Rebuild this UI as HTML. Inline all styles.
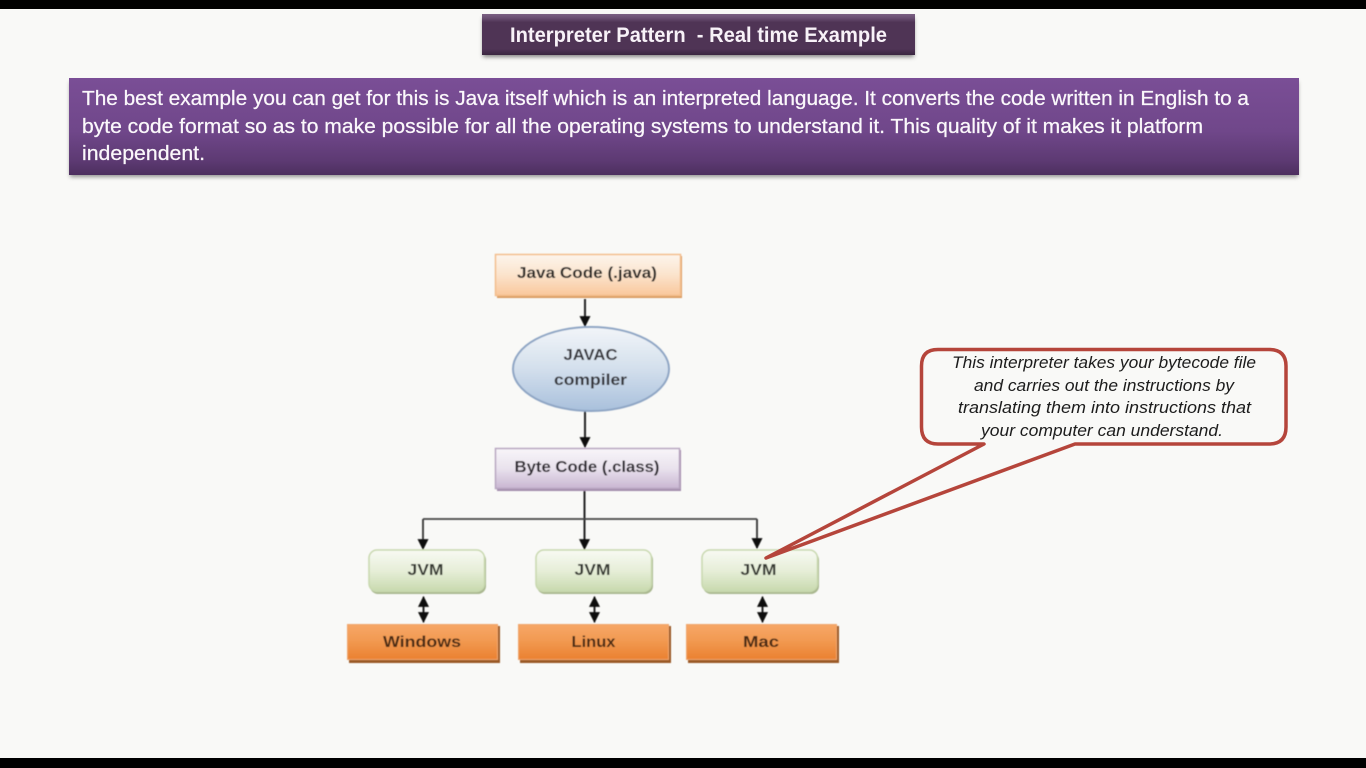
<!DOCTYPE html>
<html><head><meta charset="utf-8"><title>Interpreter Pattern</title>
<style>html,body{margin:0;padding:0;background:#000}svg{display:block}text{font-family:"Liberation Sans",sans-serif}</style></head>
<body>
<svg xmlns="http://www.w3.org/2000/svg" width="1366" height="768" viewBox="0 0 1366 768">
<defs>
<linearGradient id="title" x1="0" y1="0" x2="0" y2="1"><stop offset="0" stop-color="#7b6183"/><stop offset=".1" stop-color="#6a4f72"/><stop offset=".2" stop-color="#4f3455"/><stop offset=".85" stop-color="#4f3455"/><stop offset="1" stop-color="#3a2640"/></linearGradient>
<linearGradient id="band" x1="0" y1="0" x2="0" y2="1"><stop offset="0" stop-color="#7a4e96"/><stop offset=".55" stop-color="#70478a"/><stop offset=".85" stop-color="#5d3a73"/><stop offset="1" stop-color="#4d2f5f"/></linearGradient>
<linearGradient id="or" x1="0" y1="0" x2="0" y2="1"><stop offset="0" stop-color="#fdf5ec"/><stop offset=".5" stop-color="#fbe3cc"/><stop offset="1" stop-color="#f9c79b"/></linearGradient>
<linearGradient id="pu" x1="0" y1="0" x2="0" y2="1"><stop offset="0" stop-color="#f8f5f9"/><stop offset=".5" stop-color="#e9e2ed"/><stop offset="1" stop-color="#c9b6d2"/></linearGradient>
<linearGradient id="bl" x1="0" y1="0" x2="0" y2="1"><stop offset="0" stop-color="#f2f5f9"/><stop offset=".5" stop-color="#d3dfec"/><stop offset="1" stop-color="#a9c0dc"/></linearGradient>
<linearGradient id="gr" x1="0" y1="0" x2="0" y2="1"><stop offset="0" stop-color="#f8faf3"/><stop offset=".5" stop-color="#e6eed8"/><stop offset="1" stop-color="#c8d9ad"/></linearGradient>
<linearGradient id="dk" x1="0" y1="0" x2="0" y2="1"><stop offset="0" stop-color="#f6a767"/><stop offset=".45" stop-color="#f29a52"/><stop offset="1" stop-color="#ea8130"/></linearGradient>
<marker id="a" viewBox="0 0 10 10" refX="9" refY="5" markerWidth="11" markerHeight="11" markerUnits="userSpaceOnUse" orient="auto-start-reverse"><path d="M0 0L10 5L0 10Z" fill="#111"/></marker>
<filter id="sh" x="-5%" y="-30%" width="110%" height="160%"><feGaussianBlur stdDeviation="2"/></filter>
<filter id="soft" x="-2%" y="-2%" width="104%" height="104%"><feGaussianBlur stdDeviation=".45"/></filter>
</defs>

<rect width="1366" height="768" fill="#000"/>
<rect x="0" y="9" width="1366" height="749" fill="#f9f9f7"/>

<!-- title -->
<rect x="483" y="18" width="431" height="39" fill="#5a5a58" opacity=".75" filter="url(#sh)"/>
<rect x="482" y="14" width="433" height="41" fill="url(#title)"/>
<text x="510" y="42" font-size="21" font-weight="700" fill="#f8f2f8" textLength="377" lengthAdjust="spacingAndGlyphs" xml:space="preserve">Interpreter Pattern  - Real time Example</text>

<!-- band -->
<rect x="70" y="82" width="1228" height="95" fill="#5a5a58" opacity=".65" filter="url(#sh)"/>
<rect x="69" y="78" width="1230" height="97" fill="url(#band)"/>
<g font-size="20.500" fill="#fbf8fb" stroke="#fbf8fb" stroke-width=".25">
<text x="82" y="105" textLength="1167" lengthAdjust="spacingAndGlyphs">The best example you can get for this is Java itself which is an interpreted language. It converts the code written in English to a</text>
<text x="82" y="133" textLength="1121" lengthAdjust="spacingAndGlyphs">byte code format so as to make possible for all the operating systems to understand it. This quality of it makes it platform</text>
<text x="82" y="160" textLength="123" lengthAdjust="spacingAndGlyphs">independent.</text>
</g>

<g filter="url(#soft)">
<!-- connectors -->
<g fill="none" stroke="#222" stroke-width="2">
<path d="M585 299V326" marker-end="url(#a)"/>
<path d="M585 408V447" marker-end="url(#a)"/>
<path d="M584.500 491V549" marker-end="url(#a)"/>
<path d="M423 519V549" stroke-width="1.800" stroke="#333" marker-end="url(#a)"/>
<path d="M757 519V548" stroke-width="1.800" stroke="#333" marker-end="url(#a)"/>
<path d="M423 519H757" stroke-width="1.800" stroke="#444"/>
<path d="M423.500 597V622" marker-start="url(#a)" marker-end="url(#a)"/>
<path d="M594.500 597V622" marker-start="url(#a)" marker-end="url(#a)"/>
<path d="M762.500 597V622" marker-start="url(#a)" marker-end="url(#a)"/>
</g>

<!-- top boxes -->
<rect x="497" y="256" width="185" height="42" fill="#d99a5f"/>
<rect x="495.500" y="254.500" width="185" height="41" fill="url(#or)" stroke="#f3bd8b" stroke-width="1.500"/>
<text x="517" y="278" font-size="15.500" font-weight="700" fill="#2e2a28" textLength="140" lengthAdjust="spacingAndGlyphs">Java Code (.java)</text>

<ellipse cx="591" cy="369" rx="78" ry="42" fill="url(#bl)" stroke="#8ea5c4" stroke-width="2"/>
<g font-size="15.500" font-weight="700" fill="#34343a" text-anchor="middle">
<text x="590.500" y="360" textLength="54" lengthAdjust="spacingAndGlyphs">JAVAC</text>
<text x="590.500" y="385" textLength="73" lengthAdjust="spacingAndGlyphs">compiler</text>
</g>

<rect x="497" y="450" width="184" height="41" fill="#a28bab"/>
<rect x="495.500" y="448.500" width="184" height="40" fill="url(#pu)" stroke="#b7a5c0" stroke-width="1.500"/>
<text x="514.500" y="472" font-size="15.500" font-weight="700" fill="#2e2a30" textLength="145" lengthAdjust="spacingAndGlyphs">Byte Code (.class)</text>

<!-- JVM -->
<g fill="#a9b78f">
<rect x="370" y="552" width="116" height="42" rx="8"/><rect x="537" y="552" width="116" height="42" rx="8"/><rect x="703" y="552" width="116" height="42" rx="8"/>
</g>
<g fill="url(#gr)" stroke="#c8d8ae" stroke-width="1.500">
<rect x="369" y="550" width="115.500" height="41.500" rx="8"/><rect x="536" y="550" width="115.500" height="41.500" rx="8"/><rect x="702" y="550" width="115.500" height="41.500" rx="8"/>
</g>
<g font-size="15.500" font-weight="700" fill="#363830" text-anchor="middle">
<text x="425.500" y="575" textLength="36" lengthAdjust="spacingAndGlyphs">JVM</text>
<text x="592.500" y="575" textLength="36" lengthAdjust="spacingAndGlyphs">JVM</text>
<text x="758.500" y="575" textLength="36" lengthAdjust="spacingAndGlyphs">JVM</text>
</g>

<!-- OS -->
<g fill="#9a5a28">
<rect x="349" y="626" width="151" height="37"/><rect x="520" y="626" width="151" height="37"/><rect x="688" y="626" width="151" height="37"/>
</g>
<g fill="url(#dk)" stroke="#f0a56c" stroke-width="1">
<rect x="347.500" y="624.500" width="150" height="35"/><rect x="518.500" y="624.500" width="150" height="35"/><rect x="686.500" y="624.500" width="150" height="35"/>
</g>
<g font-size="15.500" font-weight="700" fill="#4a2a14" text-anchor="middle">
<text x="422" y="647" textLength="78" lengthAdjust="spacingAndGlyphs">Windows</text>
<text x="593.500" y="647" textLength="44" lengthAdjust="spacingAndGlyphs">Linux</text>
<text x="761" y="647" textLength="36" lengthAdjust="spacingAndGlyphs">Mac</text>
</g>
</g>

<!-- callout -->
<path d="M938 349.500H1269Q1286 349.500 1286 366V427Q1286 444 1269 444H1075L766 558L984 444H938Q921.500 444 921.500 427V366Q921.500 349.500 938 349.500Z" fill="#f9f9f7" stroke="#b5453b" stroke-width="3.500" stroke-linejoin="round"/>
<g font-size="16.500" font-style="italic" fill="#1c1c1c" text-anchor="middle">
<text x="1104" y="368" textLength="304" lengthAdjust="spacingAndGlyphs">This interpreter takes your bytecode file</text>
<text x="1104" y="391" textLength="260" lengthAdjust="spacingAndGlyphs">and carries out the instructions by</text>
<text x="1104.500" y="413" textLength="293" lengthAdjust="spacingAndGlyphs">translating them into instructions that</text>
<text x="1102" y="436" textLength="242" lengthAdjust="spacingAndGlyphs">your computer can understand.</text>
</g>
</svg>
</body></html>
